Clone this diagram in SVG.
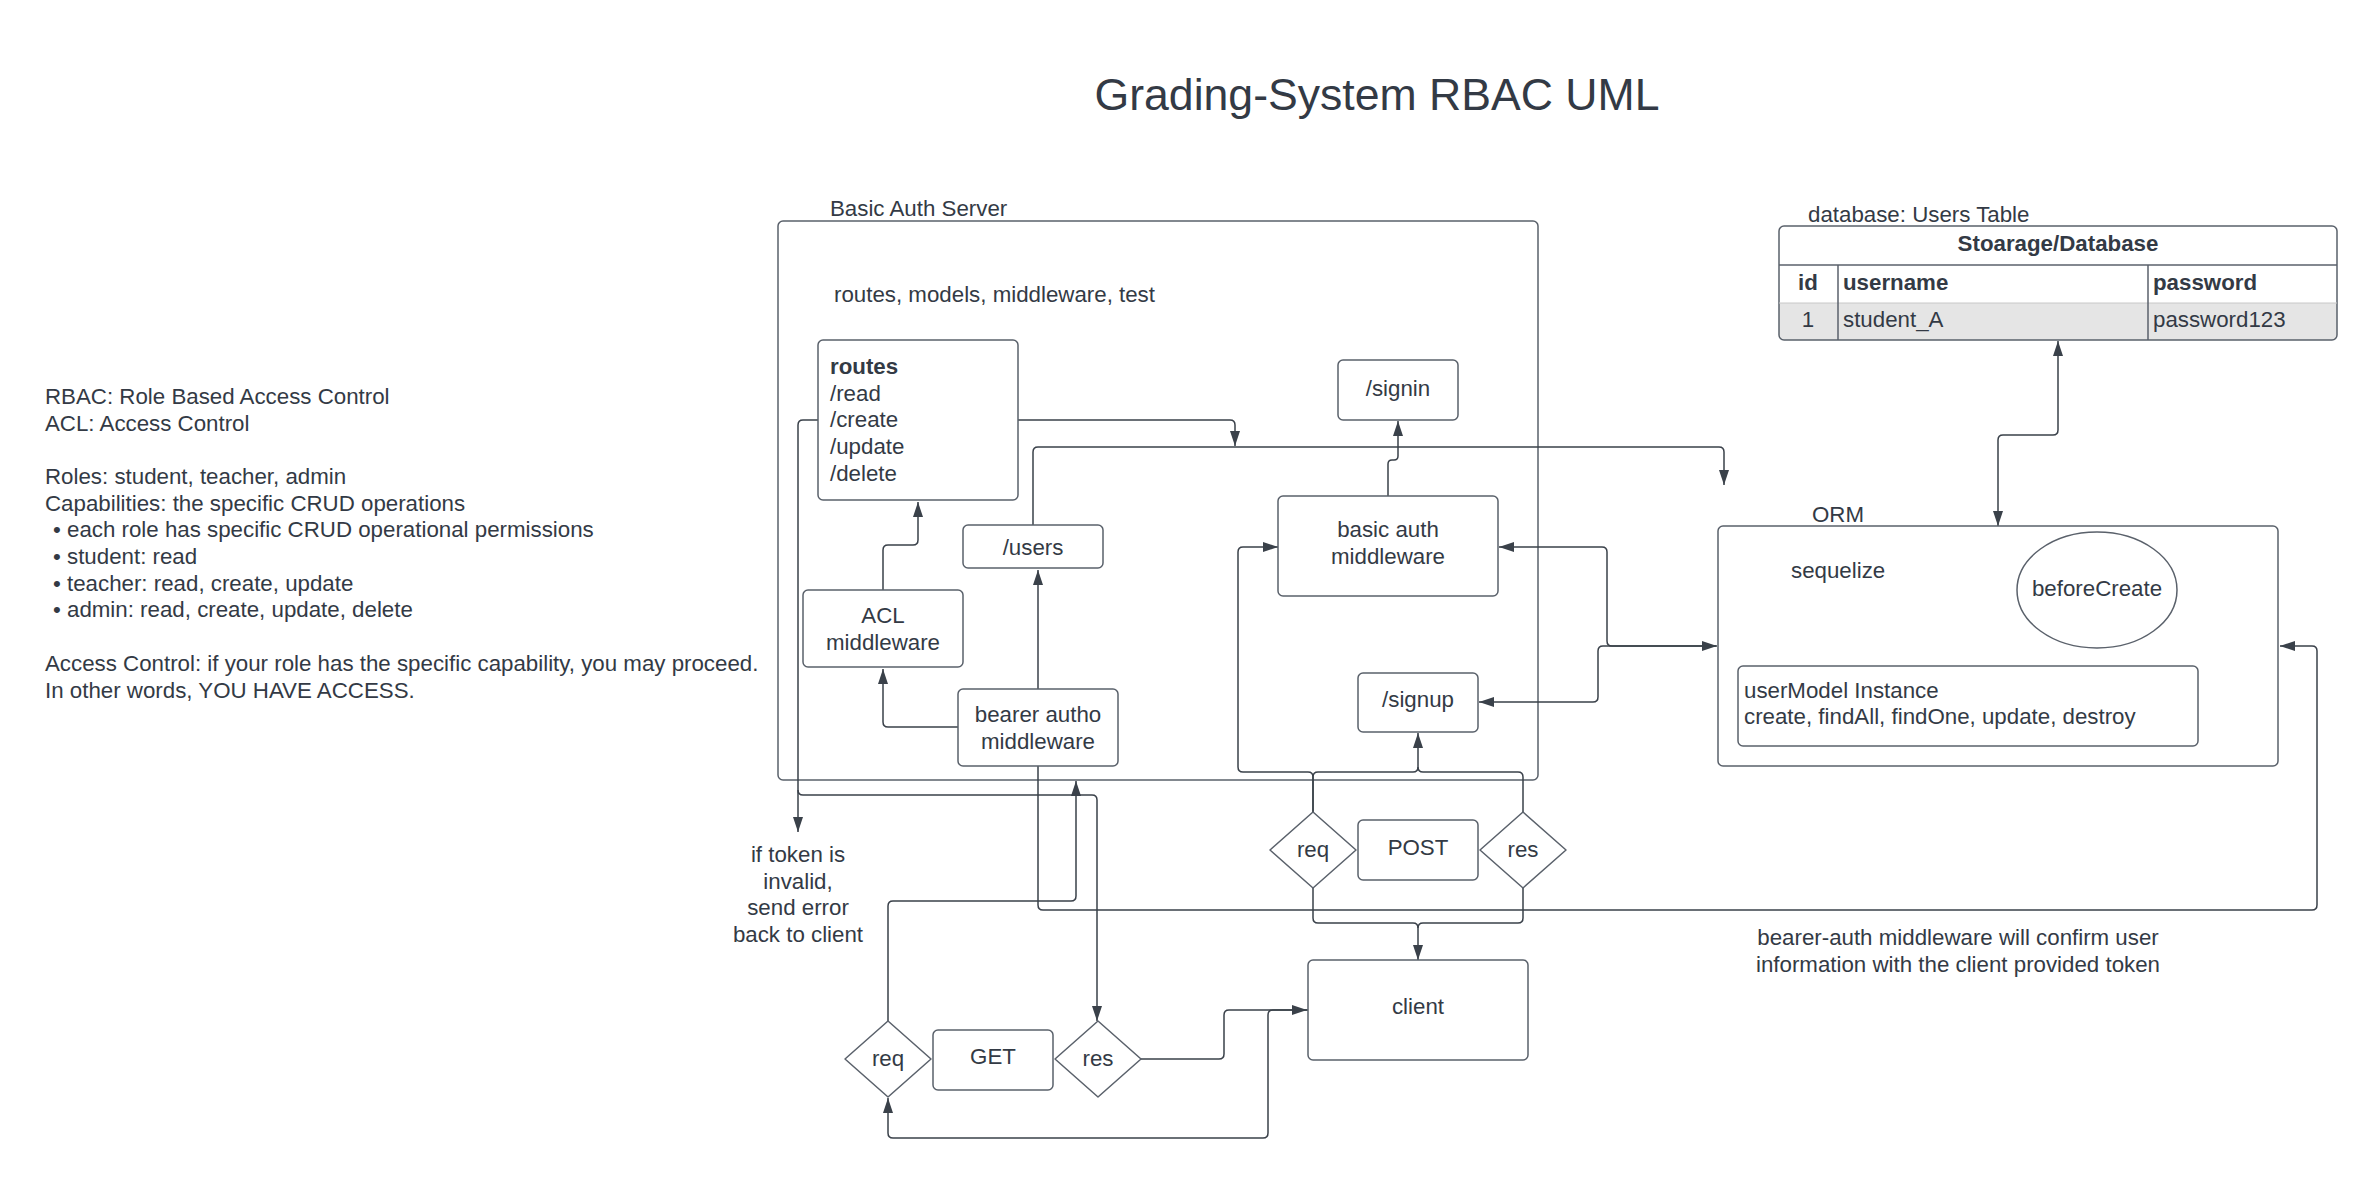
<svg xmlns="http://www.w3.org/2000/svg" width="2378" height="1178" viewBox="0 0 2378 1178">
<style>
text{font-family:"Liberation Sans",Arial,sans-serif;font-size:22.3px;fill:#333a45}
.c{text-anchor:middle}
.b{font-weight:bold}
.t{font-size:44.6px}
.box{fill:#fff;stroke:#5a616b;stroke-width:1.5}
.cn{fill:none;stroke:#3a414a;stroke-width:1.5}
</style>
<defs>
<marker id="ah" markerUnits="userSpaceOnUse" markerWidth="16" markerHeight="12" refX="15" refY="5" orient="auto-start-reverse" viewBox="0 0 16 10">
<path d="M0,0 L15,5 L0,10 z" fill="#3a414a"/>
</marker>
</defs>
<rect width="2378" height="1178" fill="#fff"/>

<text class="c t" x="1377" y="110">Grading-System RBAC UML</text>

<g id="notes">
<text x="45" y="404">RBAC: Role Based Access Control</text>
<text x="45" y="431">ACL: Access Control</text>
<text x="45" y="484">Roles: student, teacher, admin</text>
<text x="45" y="511">Capabilities: the specific CRUD operations</text>
<text x="53" y="537">•</text><text x="67" y="537">each role has specific CRUD operational permissions</text>
<text x="53" y="564">•</text><text x="67" y="564">student: read</text>
<text x="53" y="591">•</text><text x="67" y="591">teacher: read, create, update</text>
<text x="53" y="617">•</text><text x="67" y="617">admin: read, create, update, delete</text>
<text x="45" y="671">Access Control: if your role has the specific capability, you may proceed.</text>
<text x="45" y="698">In other words, YOU HAVE ACCESS.</text>
</g>

<g id="server">
<rect class="box" x="778" y="221" width="760" height="559" rx="5" style="fill:none"/>
<text x="830" y="216">Basic Auth Server</text>
<text x="834" y="302">routes, models, middleware, test</text>
</g>

<g id="connectors">
<path class="cn" marker-end="url(#ah)" d="M883,590 V550 Q883,545 888,545 H913 Q918,545 918,540 V502"/>
<path class="cn" marker-end="url(#ah)" d="M958,727 H888 Q883,727 883,722 V669"/>
<path class="cn" marker-end="url(#ah)" d="M1038,689 V570"/>
<path class="cn" marker-end="url(#ah)" d="M1018,420 H1230 Q1235,420 1235,425 V446"/>
<path class="cn" marker-end="url(#ah)" d="M1033,525 V452 Q1033,447 1038,447 H1719 Q1724,447 1724,452 V485"/>
<path class="cn" marker-end="url(#ah)" d="M818,420 H803 Q798,420 798,425 V832"/>
<path class="cn" marker-end="url(#ah)" d="M798,790 Q798,795 803,795 H1092 Q1097,795 1097,800 V1021"/>
<path class="cn" marker-end="url(#ah)" d="M888,1021 V906 Q888,901 893,901 H1071 Q1076,901 1076,896 V781"/>
<path class="cn" marker-end="url(#ah)" d="M1141,1059 H1219 Q1224,1059 1224,1054 V1015 Q1224,1010 1229,1010 H1307"/>
<path class="cn" marker-end="url(#ah)" d="M1308,1010 H1273 Q1268,1010 1268,1015 V1133 Q1268,1138 1263,1138 H893 Q888,1138 888,1133 V1098"/>
<path class="cn" marker-end="url(#ah)" d="M1038,766 V905 Q1038,910 1043,910 H2312 Q2317,910 2317,905 V651 Q2317,646 2312,646 H2280"/>
<path class="cn" marker-end="url(#ah)" d="M1388,496 V464 Q1388,460 1392,460 H1394 Q1398,460 1398,456 V421"/>
<path class="cn" marker-end="url(#ah)" d="M1313,812 V777 Q1313,772 1308,772 H1243 Q1238,772 1238,767 V552 Q1238,547 1243,547 H1278"/>
<path class="cn" marker-end="url(#ah)" d="M1313,812 V777 Q1313,772 1318,772 H1413 Q1418,772 1418,767 V733"/>
<path class="cn" d="M1523,812 V777 Q1523,772 1518,772 H1423 Q1418,772 1418,767"/>
<path class="cn" marker-end="url(#ah)" d="M1313,888 V918 Q1313,923 1318,923 H1413 Q1418,923 1418,928 V960"/>
<path class="cn" d="M1523,888 V918 Q1523,923 1518,923 H1423 Q1418,923 1418,928"/>
<path class="cn" marker-start="url(#ah)" marker-end="url(#ah)" d="M1717,646 H1612 Q1607,646 1607,641 V552 Q1607,547 1602,547 H1499"/>
<path class="cn" marker-end="url(#ah)" d="M1716,646 H1603 Q1598,646 1598,651 V697 Q1598,702 1593,702 H1479"/>
<path class="cn" marker-start="url(#ah)" marker-end="url(#ah)" d="M2058,341 V430 Q2058,435 2053,435 H2003 Q1998,435 1998,440 V526"/>
</g>

<g id="routes">
<rect class="box" x="818" y="340" width="200" height="160" rx="5"/>
<text class="b" x="830" y="374">routes</text>
<text x="830" y="401">/read</text>
<text x="830" y="427">/create</text>
<text x="830" y="454">/update</text>
<text x="830" y="481">/delete</text>
</g>

<g id="acl">
<rect class="box" x="803" y="590" width="160" height="77" rx="5"/>
<text class="c" x="883" y="623">ACL</text>
<text class="c" x="883" y="650">middleware</text>
</g>

<g id="users">
<rect class="box" x="963" y="525" width="140" height="43" rx="5"/>
<text class="c" x="1033" y="555">/users</text>
</g>

<g id="bearer">
<rect class="box" x="958" y="689" width="160" height="77" rx="5"/>
<text class="c" x="1038" y="722">bearer autho</text>
<text class="c" x="1038" y="749">middleware</text>
</g>

<g id="signin">
<rect class="box" x="1338" y="360" width="120" height="60" rx="5"/>
<text class="c" x="1398" y="396">/signin</text>
</g>

<g id="basicauth">
<rect class="box" x="1278" y="496" width="220" height="100" rx="5"/>
<text class="c" x="1388" y="537">basic auth</text>
<text class="c" x="1388" y="564">middleware</text>
</g>

<g id="signup">
<rect class="box" x="1358" y="673" width="120" height="59" rx="5"/>
<text class="c" x="1418" y="707">/signup</text>
</g>

<g id="post-req">
<polygon class="box" stroke-linejoin="round" points="1313,812 1356,850 1313,888 1270,850"/>
<text class="c" x="1313" y="857">req</text>
</g>
<g id="post">
<rect class="box" x="1358" y="820" width="120" height="60" rx="5"/>
<text class="c" x="1418" y="855">POST</text>
</g>
<g id="post-res">
<polygon class="box" stroke-linejoin="round" points="1523,812 1566,850 1523,888 1480,850"/>
<text class="c" x="1523" y="857">res</text>
</g>

<g id="client">
<rect class="box" x="1308" y="960" width="220" height="100" rx="5"/>
<text class="c" x="1418" y="1014">client</text>
</g>

<g id="get-req">
<polygon class="box" stroke-linejoin="round" points="888,1021 931,1059 888,1097 845,1059"/>
<text class="c" x="888" y="1066">req</text>
</g>
<g id="get">
<rect class="box" x="933" y="1030" width="120" height="60" rx="5"/>
<text class="c" x="993" y="1064">GET</text>
</g>
<g id="get-res">
<polygon class="box" stroke-linejoin="round" points="1098,1021 1141,1059 1098,1097 1055,1059"/>
<text class="c" x="1098" y="1066">res</text>
</g>

<g id="token-note">
<text class="c" x="798" y="862">if token is</text>
<text class="c" x="798" y="889">invalid,</text>
<text class="c" x="798" y="915">send error</text>
<text class="c" x="798" y="942">back to client</text>
</g>

<g id="bearer-note">
<text class="c" x="1958" y="945">bearer-auth middleware will confirm user</text>
<text class="c" x="1958" y="972">information with the client provided token</text>
</g>

<g id="database">
<text x="1808" y="222">database: Users Table</text>
<path d="M1779,303 H2337 V336 Q2337,340 2333,340 H1783 Q1779,340 1779,336 Z" fill="#e5e5e5"/>
<rect x="1779" y="226" width="558" height="114" rx="5" fill="none" stroke="#5a616b" stroke-width="1.5"/>
<line x1="1779" y1="265" x2="2337" y2="265" stroke="#5a616b" stroke-width="1.5"/>
<line x1="1779" y1="303" x2="2337" y2="303" stroke="#c8c8c8" stroke-width="1"/>
<line x1="1838" y1="265" x2="1838" y2="340" stroke="#5a616b" stroke-width="1.5"/>
<line x1="2148" y1="265" x2="2148" y2="340" stroke="#5a616b" stroke-width="1.5"/>
<text class="c b" x="2058" y="251">Stoarage/Database</text>
<text class="c b" x="1808" y="290">id</text>
<text class="b" x="1843" y="290">username</text>
<text class="b" x="2153" y="290">password</text>
<text class="c" x="1808" y="327">1</text>
<text x="1843" y="327">student_A</text>
<text x="2153" y="327">password123</text>
</g>

<g id="orm">
<text x="1812" y="522">ORM</text>
<rect class="box" x="1718" y="526" width="560" height="240" rx="5"/>
<text x="1791" y="578">sequelize</text>
<ellipse class="box" cx="2097" cy="590" rx="80" ry="58"/>
<text class="c" x="2097" y="596">beforeCreate</text>
<rect class="box" x="1738" y="666" width="460" height="80" rx="5"/>
<text x="1744" y="698">userModel Instance</text>
<text x="1744" y="724">create, findAll, findOne, update, destroy</text>
</g>
</svg>
